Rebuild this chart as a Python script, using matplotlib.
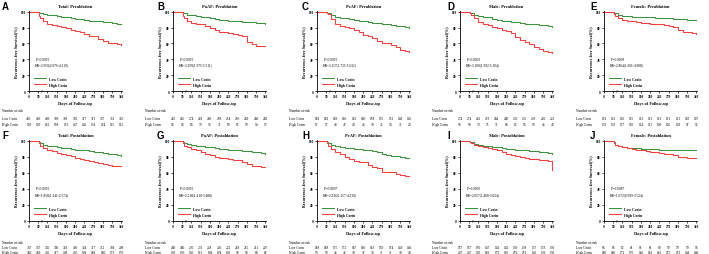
import matplotlib
matplotlib.use('Agg')
import matplotlib.pyplot as plt
import matplotlib.transforms as mtransforms
import numpy as np

plt.rcParams['font.family'] = ['Liberation Serif', 'DejaVu Serif']

# follow-up time grid (days) used for the step curves
days = [0, 91, 95, 105, 120, 135, 150, 165, 180, 195, 210, 225, 240, 255, 270, 285, 300, 315, 330, 345, 360]
tick_days = [0, 90, 120, 150, 180, 210, 240, 270, 300, 330, 360]

letters = ['A', 'B', 'C', 'D', 'E', 'F', 'G', 'H', 'I', 'J']
titles = ['Total: Preablation', 'PaAF: Preablation', 'PeAF: Preablation', 'Male: Preablation', 'Female: Preablation',
          'Total: Postablation', 'PaAF: Postablation', 'PeAF: Postablation', 'Male: Postablation', 'Female: Postablation']
p_text = ['P<0.0001', 'P<0.0001', 'P<0.0001', 'P<0.0001', 'P=0.0009',
          'P<0.0001', 'P<0.0001', 'P=0.0007', 'P=0.0005', 'P=0.0087']
hr_text = ['HR=2.959(2.076-4.219)', 'HR=3.299(1.975-5.511)', 'HR=3.117(1.725-5.632)', 'HR=3.189(1.992-5.104)',
           'HR=2.804(1.601-4.908)', 'HR=1.858(1.341-2.574)', 'HR=2.218(1.410-3.488)', 'HR=2.336(1.257-4.339)',
           'HR=2.057(1.400-3.024)', 'HR=1.672(0.999-3.524)']

low_surv = [
    [100, 99, 98, 97, 96, 95.5, 95, 94, 93, 92, 91, 90.5, 90, 89, 88.5, 88, 87.5, 86.5, 86, 85, 84],
    [100, 99, 98, 96.5, 96, 95, 94, 93, 92, 91, 90, 89.5, 89, 88.5, 88, 87.5, 87, 86.5, 86, 85.5, 85],
    [100, 99, 98, 96, 93, 92.5, 92, 91, 90, 89, 88, 87, 86, 85.5, 85, 84, 83, 82.5, 82, 81, 80],
    [100, 99, 98, 96, 95, 94, 93, 91.5, 90, 89, 88, 87.5, 87, 86, 85, 84.5, 84, 83.5, 83, 82, 81],
    [100, 99, 98, 96, 95, 94.5, 94, 93.5, 93, 93, 93, 92.5, 92, 92, 92, 91.5, 91, 90.5, 90, 90, 90],
    [100, 99, 97, 95, 94, 93, 92, 91.5, 91, 90, 89, 88.5, 88, 87, 86, 85.5, 85, 84, 83, 82, 81],
    [100, 99, 97, 96, 95, 94, 93, 92.5, 92, 91, 90, 89.5, 89, 88.5, 88, 87.5, 87, 86.5, 86, 85, 84],
    [100, 99, 97, 95, 93, 92, 91, 90.5, 90, 89.5, 89, 88, 87, 85.5, 84, 82.5, 81, 80.5, 80, 79, 78],
    [100, 99, 98, 96.5, 95, 94, 93, 92.5, 92, 91, 90, 89.5, 89, 88.5, 88, 87.5, 87, 86.5, 86, 85, 83],
    [100, 98, 95, 93, 92, 91.5, 91, 90.5, 90, 90, 90, 89.5, 89, 89, 89, 89, 89, 89, 89, 88.5, 88],
]
high_surv = [
    [100, 95, 92, 88, 85, 83, 82, 81, 79, 77, 76, 74, 72.5, 70, 69, 66, 63, 61, 60, 59, 58],
    [100, 95, 92, 89, 86, 85, 84, 82, 80, 77, 75, 74, 73, 72, 71, 69, 62, 59, 57, 57, 57],
    [100, 99, 97, 91, 84, 82, 81, 79, 77, 74, 71, 69, 67, 63, 61, 60, 58, 55, 52, 51, 49],
    [100, 98, 96, 92, 87, 85, 83, 81, 79, 77.5, 76, 73, 68, 65, 62, 59, 56, 53, 50, 49, 48],
    [100, 97, 95, 92, 90, 89, 88, 87, 86, 85.5, 85, 84.5, 84, 83, 82, 81, 77, 75, 74, 73, 72],
    [100, 97, 94, 91, 89, 87, 85, 83.5, 82, 80.5, 79, 77.5, 76, 75, 74, 72.5, 71, 70, 69, 68.5, 68],
    [100, 97, 94, 92, 90, 88, 86, 84, 82, 80, 79, 78, 77, 76.5, 76, 73, 71, 69, 68, 67.5, 67],
    [100, 97, 94, 90, 86, 83, 80, 77, 75, 74, 73, 70, 67, 66, 61, 61, 61, 59, 57, 56, 56],
    [100, 99, 97, 95, 93, 92, 91, 89.5, 88, 86, 84, 82.5, 81, 79.5, 78, 77.5, 77, 76.5, 76, 75, 63],
    [100, 97, 95, 93, 92, 91, 90, 89, 88, 87, 86, 85.5, 85, 84, 83, 82, 80, 79.5, 79, 78.5, 78],
]

# number at risk at tick_days
low_risk = [
    [426, 426, 409, 399, 389, 383, 377, 371, 367, 362, 356],
    [285, 285, 274, 268, 260, 258, 254, 250, 249, 246, 242],
    [181, 181, 169, 166, 162, 160, 158, 155, 151, 148, 145],
    [274, 274, 262, 253, 244, 240, 236, 235, 230, 226, 222],
    [121, 121, 116, 115, 113, 113, 113, 111, 111, 110, 107],
    [367, 367, 345, 340, 333, 330, 324, 317, 312, 304, 298],
    [240, 240, 236, 233, 228, 226, 222, 218, 215, 211, 207],
    [188, 188, 175, 172, 167, 166, 163, 159, 154, 149, 146],
    [157, 157, 150, 147, 143, 142, 139, 138, 137, 133, 130],
    [66, 66, 62, 61, 61, 61, 60, 59, 59, 59, 56],
]
high_risk = [
    [190, 190, 162, 158, 152, 147, 142, 134, 124, 115, 112],
    [93, 93, 84, 79, 76, 71, 69, 67, 59, 54, 52],
    [57, 57, 49, 47, 44, 43, 39, 35, 34, 31, 29],
    [99, 99, 79, 75, 71, 68, 62, 56, 50, 46, 44],
    [131, 131, 117, 116, 114, 111, 109, 105, 101, 97, 95],
    [249, 249, 226, 217, 208, 200, 194, 188, 180, 173, 170],
    [130, 130, 120, 113, 108, 104, 101, 99, 94, 89, 87],
    [50, 50, 43, 42, 39, 37, 34, 31, 31, 30, 28],
    [207, 207, 192, 181, 172, 165, 159, 153, 145, 139, 136],
    [186, 186, 171, 170, 166, 163, 162, 157, 153, 148, 146],
]

green = '#3a923a'
red = '#ff3c3c'
W, H = 709, 255


def fwd(x):
    x = np.asarray(x, dtype=float)
    return np.where(x <= 90, x / 3.0, 30 + (x - 90))


def inv(x):
    x = np.asarray(x, dtype=float)
    return np.where(x <= 30, x * 3.0, x - 30 + 90)


fig = plt.figure(figsize=(W / 100, H / 100), dpi=100)

lefts = [29, 173, 317, 460, 604]
letter_x = [2, 157, 302, 447, 590]
ax_w = 93
rows = [(12, 92), (141, 222)]
fs_small = 2.5

for i in range(10):
    r, c = divmod(i, 5)
    top, bot = rows[r]
    ax = fig.add_axes([lefts[c] / W, 1 - bot / H, ax_w / W, (bot - top) / H])
    ax.set_xscale('function', functions=(fwd, inv))
    ax.step(days, low_surv[i], where='post', color=green, lw=0.75, label='Low Corin')
    ax.step(days, high_surv[i], where='post', color=red, lw=0.75, label='High Corin')
    ax.set_xlim(0, 362)
    ax.set_ylim(0, 101)
    ax.set_xticks(tick_days)
    ax.set_xticklabels([str(d) for d in tick_days])
    ax.set_yticks([0, 20, 40, 60, 80, 100])
    ax.tick_params(labelsize=fs_small, length=1.5, width=0.5, pad=1)
    for lab in ax.get_xticklabels() + ax.get_yticklabels():
        lab.set_fontweight('bold')
    for s in ['top', 'right']:
        ax.spines[s].set_visible(False)
    for s in ['left', 'bottom']:
        ax.spines[s].set_linewidth(0.6)
    ax.set_xlabel('Days of Follow-up', fontsize=3.2, fontweight='bold', labelpad=2)
    ax.set_ylabel('Recurrence-free Survival(%)', fontsize=3.0, fontweight='bold', labelpad=1.5)
    ax.set_title(titles[i], fontsize=3.2, fontweight='bold', pad=3)
    # axis break mark
    ax.text(100, 0, '//', transform=mtransforms.blended_transform_factory(ax.transData, ax.transAxes),
            fontsize=3.2, ha='center', va='center', fontweight='bold', clip_on=False)
    ax.text(0.06, 0.39, p_text[i], transform=ax.transAxes, fontsize=fs_small, style='italic')
    ax.text(0.06, 0.32, hr_text[i], transform=ax.transAxes, fontsize=fs_small)
    ax.legend(loc='lower left', bbox_to_anchor=(0.03, 0.02), frameon=False,
              handlelength=3, handletextpad=0.8, labelspacing=0.6, borderpad=0.2,
              prop={'weight': 'bold', 'size': 2.7})
    # number at risk table
    ht = bot - top
    tr = mtransforms.blended_transform_factory(ax.transData, ax.transAxes)
    y0 = -(20 if r == 0 else 22) / ht
    y1 = -27.5 / ht
    y2 = -(34 if r == 0 else 32.5) / ht
    lab_x = -(28 if c > 0 else 27) / ax_w
    ax.text(lab_x, y0, 'Number at risk', transform=ax.transAxes, fontsize=fs_small)
    ax.text(lab_x, y1, 'Low Corin', transform=ax.transAxes, fontsize=fs_small)
    ax.text(lab_x, y2, 'High Corin', transform=ax.transAxes, fontsize=fs_small)
    for d, n1, n2 in zip(tick_days, low_risk[i], high_risk[i]):
        ax.text(d, y1, str(n1), transform=tr, fontsize=fs_small, ha='center')
        ax.text(d, y2, str(n2), transform=tr, fontsize=fs_small, ha='center')
    fig.text(letter_x[c] / W, 1 - (top - 10) / H, letters[i], fontsize=7, fontweight='bold',
             family='Liberation Sans', va='top', ha='left')

fig.savefig('out.png', dpi=100)
